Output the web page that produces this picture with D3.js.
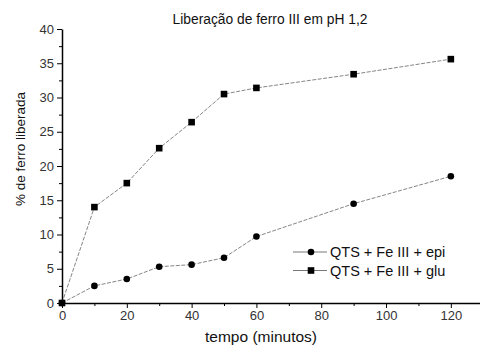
<!DOCTYPE html>
<html>
<head>
<meta charset="utf-8">
<script src="https://cdn.jsdelivr.net/npm/d3@7"></script>
<style>
  body { margin: 0; background: #fff; }
  svg { font-family: "Liberation Sans", Arial, sans-serif; }
</style>
</head>
<body>
<div id="chart"></div>
<script>
const tempo = [0, 10, 20, 30, 40, 50, 60, 90, 120];
const epi = [0, 2.5, 3.5, 5.3, 5.6, 6.6, 9.7, 14.5, 18.5];
const glu = [0, 14.0, 17.5, 22.6, 26.4, 30.5, 31.4, 33.4, 35.6];
const seriesNames = ['QTS + Fe III + epi', 'QTS + Fe III + glu'];
const xTicks = [0, 20, 40, 60, 80, 100, 120];
const yTicks = [0, 5, 10, 15, 20, 25, 30, 35, 40];

const width = 480, height = 345;
const margin = { top: 29, right: 0, bottom: 42, left: 62 };

const svg = d3.select('#chart').append('svg')
    .attr('width', width)
    .attr('height', height);

const x = d3.scaleLinear().domain([0, 129]).range([margin.left, width - margin.right]);
const y = d3.scaleLinear().domain([0, 40]).range([height - margin.bottom, margin.top]);

// minor ticks
svg.append('g')
    .attr('transform', `translate(0,${y(0)})`)
    .call(d3.axisBottom(x).tickValues(d3.range(10, 130, 20)).tickSize(3).tickFormat(''))
    .call(g => g.select('.domain').remove());
svg.append('g')
    .attr('transform', `translate(${x(0)},0)`)
    .call(d3.axisLeft(y).tickValues(d3.range(2.5, 40, 5)).tickSize(3).tickFormat(''))
    .call(g => g.select('.domain').remove());

// main axes
svg.append('g')
    .attr('transform', `translate(0,${y(0)})`)
    .call(d3.axisBottom(x).tickValues(xTicks).tickSize(5).tickPadding(3).tickSizeOuter(0));
svg.append('g')
    .attr('transform', `translate(${x(0)},0)`)
    .call(d3.axisLeft(y).tickValues(yTicks).tickSize(5).tickPadding(3).tickSizeOuter(0));

svg.selectAll('.domain').attr('stroke', '#000').attr('stroke-width', 1.5);
svg.selectAll('.tick line').attr('stroke', '#000').attr('stroke-width', 1);
svg.selectAll('.tick text').attr('font-size', 13).attr('fill', '#333')
    .attr('font-family', '"Liberation Sans", Arial, sans-serif');

// lines
const line = d3.line().x((d, i) => x(tempo[i])).y(d => y(d));
[epi, glu].forEach(vals => {
    svg.append('path')
        .attr('d', line(vals))
        .attr('fill', 'none')
        .attr('stroke', '#666')
        .attr('stroke-width', 0.8)
        .attr('stroke-dasharray', '4,1.5');
});

// markers
svg.selectAll('.epi').data(epi).enter().append('circle')
    .attr('class', 'epi')
    .attr('cx', (d, i) => x(tempo[i]))
    .attr('cy', d => y(d))
    .attr('r', 3.3)
    .attr('fill', '#000');
svg.selectAll('.glu').data(glu).enter().append('rect')
    .attr('class', 'glu')
    .attr('x', (d, i) => x(tempo[i]) - 3.3)
    .attr('y', d => y(d) - 3.3)
    .attr('width', 6.6)
    .attr('height', 6.6)
    .attr('fill', '#000');

// title and axis labels
svg.append('text')
    .attr('x', 270).attr('y', 24)
    .attr('text-anchor', 'middle')
    .attr('font-size', 13.8)
    .attr('fill', '#111')
    .text('Liberação de ferro III em pH 1,2');

svg.append('text')
    .attr('x', 261).attr('y', 342)
    .attr('text-anchor', 'middle')
    .attr('font-size', 15.5)
    .attr('fill', '#111')
    .text('tempo (minutos)');

svg.append('text')
    .attr('transform', 'translate(25,149) rotate(-90)')
    .attr('text-anchor', 'middle')
    .attr('font-size', 13.5)
    .attr('fill', '#111')
    .text('% de ferro liberada');

// legend
const legend = svg.append('g').attr('transform', 'translate(293,252)');
seriesNames.forEach((name, i) => {
    const row = legend.append('g').attr('transform', `translate(0,${i * 18.5})`);
    row.append('line').attr('x1', 0).attr('x2', 34).attr('y1', 0).attr('y2', 0)
        .attr('stroke', '#555').attr('stroke-width', 0.8);
    if (i === 0) {
        row.append('circle').attr('cx', 18).attr('cy', 0).attr('r', 3.3).attr('fill', '#000');
    } else {
        row.append('rect').attr('x', 14.7).attr('y', -3.3).attr('width', 6.6).attr('height', 6.6).attr('fill', '#000');
    }
    row.append('text').attr('x', 37).attr('y', 5)
        .attr('font-size', 14.5).attr('fill', '#111')
        .text(name);
});
</script>
</body>
</html>
